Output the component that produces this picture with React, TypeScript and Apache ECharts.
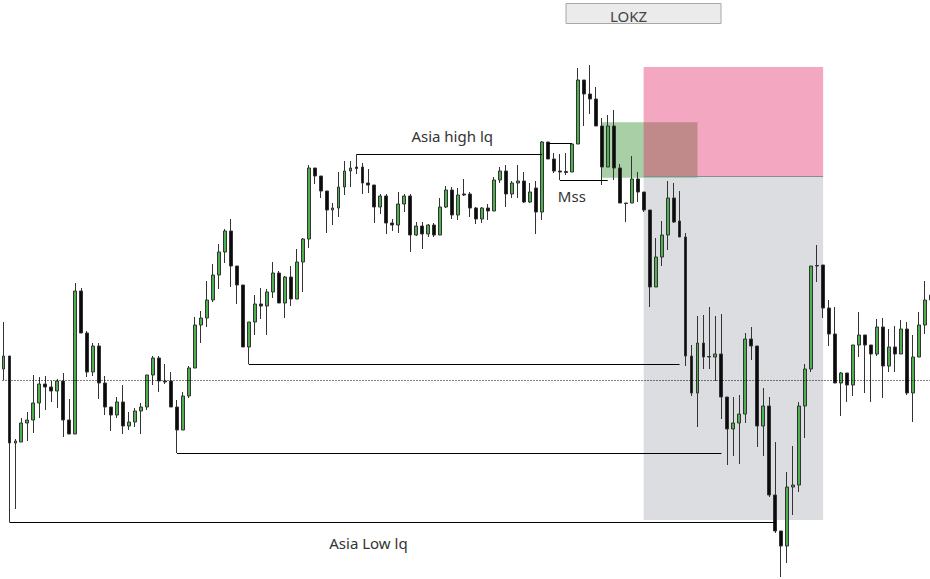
import React, { useEffect, useRef } from "react";
import * as echarts from "echarts";

// Each candle: [open, close, highWick, lowWick] read as levels on an inverted (top-down) price scale
const candlesAsia: number[][] = [
  [369, 356, 322, 380], [356, 443, 356, 522], [443, 441, 439, 509], [442, 423, 418, 442],
  [423, 420, 412, 441], [420, 403, 375, 433], [403, 384, 377, 418], [384, 387, 376, 410],
  [387, 391, 381, 402], [391, 381, 379, 408], [381, 420, 373, 437], [420, 434, 399, 434],
  [434, 291, 283, 434], [291, 333, 288, 333], [333, 372, 331, 377], [372, 346, 343, 376],
  [346, 383, 343, 399], [383, 407, 376, 415], [407, 415, 407, 431], [415, 402, 397, 418],
  [402, 426, 385, 434], [426, 422, 412, 430], [422, 411, 408, 427], [411, 407, 403, 434],
  [407, 375, 375, 410], [375, 358, 356, 385], [358, 381, 356, 392], [381, 382, 364, 384],
  [381, 407, 372, 407], [407, 430, 400, 453], [430, 396, 392, 430], [396, 368, 366, 398],
  [368, 325, 317, 368], [325, 318, 311, 343], [318, 300, 281, 327], [300, 275, 264, 302],
  [275, 252, 244, 289], [252, 231, 229, 263], [231, 266, 219, 287], [266, 285, 266, 304],
  [285, 347, 285, 347], [347, 322, 322, 364], [322, 304, 295, 335], [304, 306, 288, 319],
  [306, 292, 289, 335], [292, 273, 262, 298], [273, 303, 271, 303], [303, 277, 276, 318],
  [277, 299, 266, 306], [299, 262, 249, 299], [262, 239, 238, 292], [239, 168, 165, 248],
];

const candlesPreLondon: number[][] = [
  [168, 176, 168, 184], [176, 191, 176, 198], [191, 210, 191, 233], [210, 208, 203, 225],
  [208, 187, 172, 217], [187, 171, 161, 195], [171, 168, 161, 187], [167, 168.5, 154.5, 174],
  [167, 183, 163, 194], [183, 185, 169, 193], [185, 207, 185, 223], [207, 196, 194, 214],
  [196, 223, 194, 234], [223, 225, 219, 231], [225, 204, 192, 233], [204, 196, 194, 212],
  [196, 235, 194, 252], [235, 226, 222, 236], [226, 234, 222, 249], [234, 225, 224, 237],
  [225, 235, 223, 237], [235, 207, 198, 235], [207, 190, 186, 208], [190, 215, 187, 219],
  [215, 195, 188, 220], [194, 195, 179, 196], [194, 208, 192, 217], [208, 219, 207, 224],
  [219, 208, 207, 223], [208, 211, 204, 220], [211, 180, 177, 211], [180, 171, 167, 183],
  [171, 194, 165, 207], [194, 183, 181, 198], [183, 181, 165, 198], [181, 202, 172, 203],
  [202, 192, 183, 203], [188, 212, 181, 234], [212, 142, 141, 220], [142, 159, 142, 159],
  [159, 171, 153, 173], [171, 172, 154, 180], [171.5, 172.5, 153, 175], [172, 144, 143, 172],
  [144, 80, 68, 144], [80, 94, 80, 126], [94, 99, 65, 114], [99, 126, 87, 126],
  [126, 167, 118, 185], [167, 126, 115, 167], [126, 168, 110, 180], [168, 203, 164, 203],
];

const candlesLondon: number[][] = [
  [203, 203.5, 203, 222], [203, 179, 156, 203], [179, 192, 172, 202], [192, 210, 192, 212],
  [210, 287, 210, 307], [287, 257, 238, 287], [257, 235, 221, 266], [235, 198, 181, 250],
  [198, 222, 183, 223], [221, 237, 191, 237], [237, 356, 233, 366], [356, 393, 345, 396],
  [393, 343, 316, 427], [343, 357, 315, 369], [356.5, 357, 307, 369], [357, 354, 316, 381],
  [354, 397, 314, 419], [397, 429, 397, 465], [429, 423, 397, 456], [423, 414, 395, 464],
  [414, 339, 333, 423], [339, 346, 327, 360], [346, 426, 346, 447], [426, 406, 388, 456],
  [406, 495, 397, 497], [495, 531, 442, 533], [531, 546, 531, 577], [546, 487, 472, 563],
  [487, 485, 446, 515], [485, 406, 402, 492], [406, 369, 364, 438], [369, 266, 266, 372],
  [265.5, 266, 245, 282], [265, 308, 265, 318], [308, 334, 300, 346], [334, 383, 307, 383],
  [383, 373, 372, 416], [373, 385, 373, 402], [385, 345, 345, 396], [345, 335, 312, 357],
  [335, 345, 335, 393], [345, 354, 345, 402], [354, 327, 319, 356], [327, 366, 318, 398],
  [366, 347, 329, 372], [347, 354, 326, 372], [354, 329, 320, 354], [329, 393, 322, 395],
  [393, 357, 335, 422], [357, 325, 312, 357], [325, 300, 281, 334], [300, 295, 285, 305],
];

// Liquidity lines: [fromCandle, toCandle, level]
const liquidityLines: number[][] = [
  [59, 90, 154.5],
  [91, 95, 143.5],
  [93, 101, 180.5],
  [41, 113, 364.5],
  [29, 120, 453.5],
  [1, 129, 522.5],
];
const midLevel = 380.5;
const rangeTopLine = [107, 137, 176.5];

// Zones: [fromCandle, toCandle, topLevel, bottomLevel]
const rangeZone = [107, 137, 176, 520];
const fvgZone = [100, 116, 122.3, 177.7];
const supplyZone = [107, 137, 67, 176];

// Labels: [text, candle, level]
const labels: [string, number, number][] = [
  ["Asia high lq", 75, 135.7],
  ["Mss", 95, 195.7],
  ["Asia Low lq", 61, 543],
];
const sessionTitle = "LOKZ";

export default function App() {
  const ref = useRef<HTMLDivElement>(null);
  useEffect(() => {
    document.body.style.margin = "0";
    document.body.style.overflow = "hidden";
    if (!ref.current) return;
    const chart = echarts.init(ref.current, null, { renderer: "svg" });
    const candles = [...candlesAsia, ...candlesPreLondon, ...candlesLondon];
    const cats = candles.map((_, i) => String(i));
    const font = '"Noto Sans", sans-serif';

    const zone = (z: number[], color: string) => [
      { coord: [z[0], z[2]], itemStyle: { color } },
      { coord: [z[1], z[3]] },
    ];

    chart.setOption({
      animation: false,
      backgroundColor: "#ffffff",
      grid: { left: 0.5, top: 0, width: 933.3, height: 579 },
      xAxis: { type: "category", data: cats, show: false, boundaryGap: true },
      yAxis: { type: "value", inverse: true, min: 0, max: 579, show: false },
      series: [
        {
          type: "line",
          z: 1,
          data: [],
          silent: true,
          markArea: {
            silent: true,
            data: [
              zone(rangeZone, "#dcdde1"),
              zone(fvgZone, "rgba(81,159,75,0.5)"),
              zone(supplyZone, "rgba(228,35,100,0.4)"),
            ],
          },
          markLine: {
            silent: true,
            symbol: ["none", "none"],
            label: { show: false },
            data: [
              { yAxis: midLevel, lineStyle: { color: "#000", width: 1, type: [1, 2], dashOffset: 0.5 } },
              [
                { coord: [rangeTopLine[0], rangeTopLine[2]], lineStyle: { color: "#868c96", width: 1, type: "solid" } },
                { coord: [rangeTopLine[1], rangeTopLine[2]] },
              ],
              ...liquidityLines.map((l) => [
                { coord: [l[0], l[2]], lineStyle: { color: "#000", width: 1, type: "solid" } },
                { coord: [l[1], l[2]] },
              ]),
            ],
          },
          markPoint: {
            silent: true,
            symbol: "rect",
            symbolSize: 1,
            itemStyle: { color: "rgba(0,0,0,0)" },
            label: {
              show: true,
              position: "inside",
              color: "#333",
              fontSize: 15,
              fontFamily: font,
              formatter: (p: any) => p.name,
            },
            data: labels.map((l) => ({ name: l[0], coord: [l[1], l[2]] })),
          },
        },
        {
          type: "candlestick",
          z: 2,
          data: candles,
          barWidth: 3.4,
          silent: true,
          itemStyle: {
            color: "#0b0b0b",
            color0: "#4caf50",
            borderColor: "#333333",
            borderColor0: "#333333",
            borderWidth: 1,
          },
        },
      ],
      graphic: [
        {
          type: "rect",
          shape: { x: 566, y: 3.5, width: 155, height: 20 },
          style: { fill: "#ebebeb", stroke: "#a8a8a8", lineWidth: 1 },
          silent: true,
        },
        {
          type: "text",
          x: 610,
          y: 15.7,
          style: {
            text: sessionTitle,
            fill: "#444",
            fontSize: 15,
            fontFamily: font,
            textVerticalAlign: "middle",
            verticalAlign: "middle",
          },
          silent: true,
        },
      ],
    });
    return () => chart.dispose();
  }, []);
  return (
    <div style={{ width: 930, height: 579, overflow: "hidden", position: "relative" }}>
      <div ref={ref} style={{ width: 940, height: 579 }} />
    </div>
  );
}
